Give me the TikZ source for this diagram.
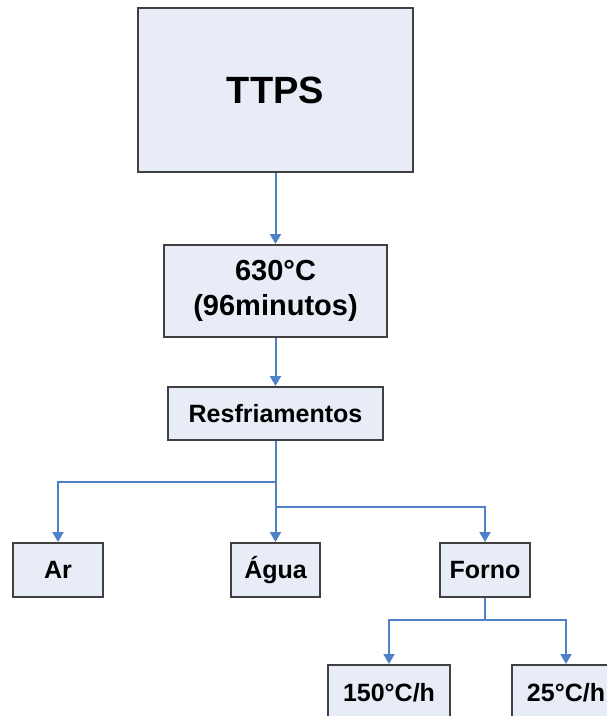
\documentclass[tikz,border=0pt]{standalone}
\usepackage{fontspec}
\setmainfont{Liberation Sans}
\usetikzlibrary{arrows.meta}
\definecolor{boxfill}{HTML}{E7ECF7}
\definecolor{boxline}{HTML}{404040}
\definecolor{arrblue}{HTML}{4F81C9}
\tikzset{
  box/.style={draw=boxline, fill=boxfill, line width=2pt, rectangle, inner sep=0pt, font=\bfseries\fontsize{25}{30}\selectfont, align=center},
  arr/.style={draw=arrblue, line width=2pt, -{Triangle[width=11pt,length=10pt]}},
  ln/.style={draw=arrblue, line width=2pt}
}
\begin{document}
\begin{tikzpicture}[x=1pt,y=-1pt]
\useasboundingbox (0,0) rectangle (607,716);
\clip (0,0) rectangle (607,716);
\node[box, minimum width=275pt, minimum height=164pt, font=\bfseries\fontsize{38}{44}\selectfont] (ttps) at (275.5,90) {TTPS};
\node[box, minimum width=223pt, minimum height=92pt, font=\bfseries\fontsize{29}{35}\selectfont] (t630) at (275.5,291) {630°C\\(96minutos)};
\node[box, minimum width=215pt, minimum height=53pt] (resf) at (275.5,413.5) {Resfriamentos};
\node[box, minimum width=90pt, minimum height=54pt] (ar) at (58,570) {Ar};
\node[box, minimum width=89pt, minimum height=54pt] (agua) at (275.5,570) {Água};
\node[box, minimum width=90pt, minimum height=54pt] (forno) at (485,570) {Forno};
\node[box, minimum width=122pt, minimum height=56pt] (c150) at (389,693) {150°C/h};
\node[box, minimum width=108pt, minimum height=56pt] (c25) at (566,693) {25°C/h};
\draw[arr] (ttps.south) -- (t630.north);
\draw[arr] (t630.south) -- (resf.north);
\draw[arr] (resf.south) -- (agua.north);
\coordinate (j1) at (275.5,482);
\coordinate (j2) at (275.5,507);
\coordinate (j3) at (485,620);
\draw[arr] (j1) -| (ar.north);
\draw[arr] (j2) -| (forno.north);
\draw[ln] (forno.south) -- (j3);
\draw[arr] (j3) -| (c150.north);
\draw[arr] (j3) -| (c25.north);
\end{tikzpicture}
\end{document}
